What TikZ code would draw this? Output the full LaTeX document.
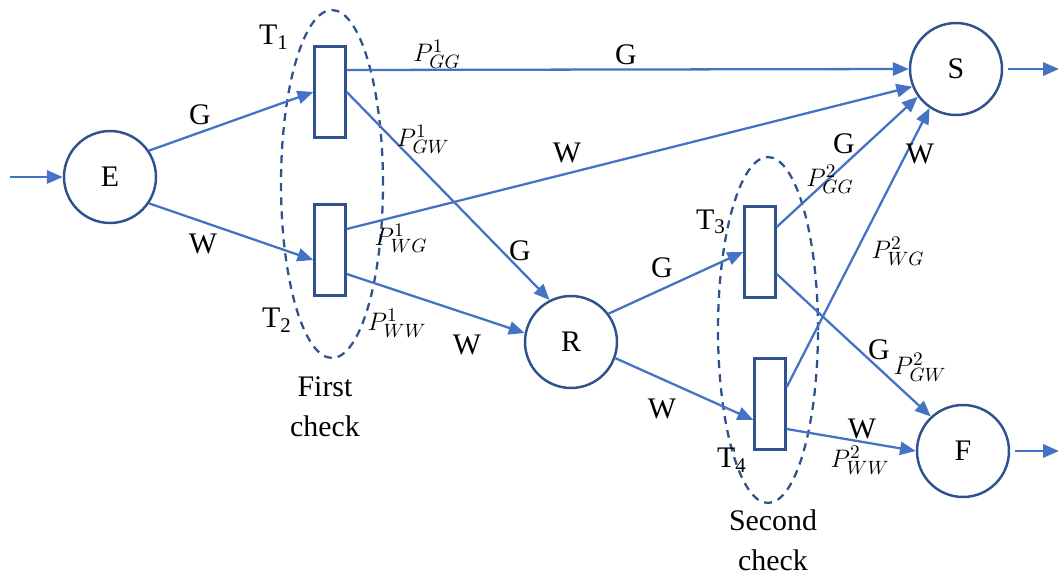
\documentclass[tikz,border=0pt]{standalone}
\usepackage{fontspec}
\setmainfont{Liberation Serif}
\usetikzlibrary{arrows.meta}
\definecolor{flowblue}{HTML}{4472C4}
\definecolor{rimblue}{HTML}{2F528F}

\begin{document}
\begin{tikzpicture}[x=0.02cm, y=-0.02cm,
	state/.style={circle, draw=rimblue, line width=1.4pt, minimum size=1.84cm, inner sep=0pt, font=\fontsize{17}{20}\selectfont},
	trans/.style={rectangle, draw=rimblue, line width=1.4pt, minimum width=0.62cm, minimum height=1.82cm, inner sep=0pt},
	flow/.style={-{Triangle[length=9pt,width=7.5pt]}, flowblue, line width=1.3pt},
	lbl/.style={inner sep=0pt, font=\fontsize{17}{20}\selectfont},
	prob/.style={inner sep=0pt, font=\fontsize{15.5}{18}\selectfont},
	checktxt/.style={inner sep=0pt, align=center, font=\fontsize{17}{23}\selectfont},
	check/.style={draw=rimblue, line width=1.3pt, dash pattern=on 4.5pt off 3.5pt}]
	\useasboundingbox (0,0) rectangle (1059,575);
	
	% check regions
	\draw[check] (332,184) ellipse [x radius=1.02cm, y radius=3.48cm];
	\draw[check] (768,330) ellipse [x radius=1.0cm, y radius=3.46cm];
	
	% states and tests
	\node[state] (E) at (110,177) {E};
	\node[state] (S) at (956,69) {S};
	\node[state] (R) at (571,342) {R};
	\node[state] (F) at (963,451) {F};
	\node[trans] (T1) at (330,92) {};
	\node[trans] (T2) at (330,250) {};
	\node[trans] (T3) at (760,252) {};
	\node[trans] (T4) at (770,404) {};
	\coordinate (in) at (10,177);
	\coordinate (outS) at (1059,69);
	\coordinate (outF) at (1059,451);
	
	% flows
	\draw[flow] (in) -- (E);
	\draw[flow] (E.34) -- (T1.west);
	\draw[flow] (E.-34) -- ([yshift=-0.2cm]T2.west);
	\draw[flow] ([yshift=0.44cm]T1.east) -- (S.west);
	\draw[flow] (T1.east) -- (R.117);
	\draw[flow] ([yshift=0.42cm]T2.east) -- (S.202);
	\draw[flow] ([yshift=-0.48cm]T2.east) -- (R.169);
	\draw[flow] (R.37) -- (T3.west);
	\draw[flow] (R.-20) -- ([yshift=-0.32cm]T4.west);
	\draw[flow] ([yshift=0.5cm]T3.east) -- (S.216);
	\draw[flow] ([yshift=-0.44cm]T3.east) -- (F.133);
	\draw[flow] ([yshift=0.34cm]T4.east) -- (S.236);
	\draw[flow] ([yshift=-0.5cm]T4.east) -- (F.west);
	\draw[flow] ([xshift=0.1cm]S.east) -- (outS);
	\draw[flow] ([xshift=0.1cm]F.east) -- (outF);
	
	% labels
	\node[lbl] (nT1) at (274,37) {T\textsubscript{1}};
	\node[lbl] (nT2) at (277,320) {T\textsubscript{2}};
	\node[lbl] (nT3) at (711,222) {T\textsubscript{3}};
	\node[lbl] (nT4) at (732,460) {T\textsubscript{4}};
	\node[lbl] (lEG) at (200,115) {G};
	\node[lbl] (lEW) at (203,244) {W};
	\node[lbl] (l1G) at (626,55) {G};
	\node[lbl] (l1W) at (567,153) {W};
	\node[lbl] (l2G) at (520,251) {G};
	\node[lbl] (l2W) at (467,345) {W};
	\node[lbl] (lRG) at (662,268) {G};
	\node[lbl] (lRW) at (662,409) {W};
	\node[lbl] (l3G) at (844,144) {G};
	\node[lbl] (l3W) at (920,154) {W};
	\node[lbl] (l4G) at (879,350) {G};
	\node[lbl] (l4W) at (862,429) {W};
	\node[prob] (pGG1) at (437,54) {$P^{1}_{GG}$};
	\node[prob] (pGW1) at (423,139) {$P^{1}_{GW}$};
	\node[prob] (pWG1) at (401,238) {$P^{1}_{WG}$};
	\node[prob] (pWW1) at (397,323) {$P^{1}_{WW}$};
	\node[prob] (pGG2) at (830,179) {$P^{2}_{GG}$};
	\node[prob] (pWG2) at (898,251) {$P^{2}_{WG}$};
	\node[prob] (pGW2) at (920,367) {$P^{2}_{GW}$};
	\node[prob] (pWW2) at (860,460) {$P^{2}_{WW}$};
	\node[checktxt] (chk1) at (325,407) {First\\check};
	\node[checktxt] (chk2) at (773,540) {Second\\check};
\end{tikzpicture}
\end{document}
